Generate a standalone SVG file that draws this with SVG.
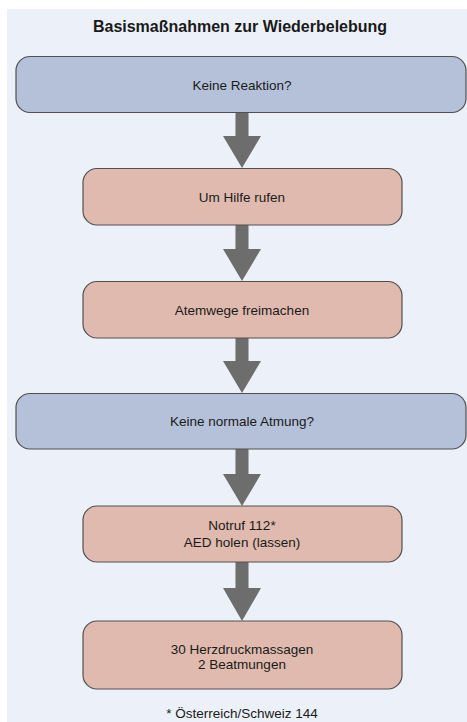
<svg xmlns="http://www.w3.org/2000/svg" width="467" height="722" viewBox="0 0 467 722">
<style>
.bg{fill:#ECF1F9}
.q{fill:#B5C1D9;stroke:#505050;stroke-width:1.2}
.a{fill:#E0BAAE;stroke:#505050;stroke-width:1.2}
.t{font-family:"Liberation Sans",Arial,sans-serif;font-size:13.5px;fill:#1a1a1a;text-anchor:middle}
.title{font-family:"Liberation Sans",Arial,sans-serif;font-size:16px;font-weight:bold;fill:#1a1a1a;text-anchor:middle}
.arr{fill:#6D6D6D}
</style>
<rect class="bg" x="7" y="9" width="460" height="713"/>
<text class="title" x="240" y="32">Basismaßnahmen zur Wiederbelebung</text>
<g id="connectors">
<path class="arr" d="M235.5 112.5H248.5V136H261L242 168L223 136H235.5Z"/>
<path class="arr" d="M235.5 225H248.5V249H261L242 281L223 249H235.5Z"/>
<path class="arr" d="M235.5 338H248.5V361H261L242 393L223 361H235.5Z"/>
<path class="arr" d="M235.5 449H248.5V474H261L242 506L223 474H235.5Z"/>
<path class="arr" d="M235.5 562H248.5V588H261L242 621L223 588H235.5Z"/>
</g>
<g id="n1"><rect class="q" x="16" y="56.5" width="450" height="56" rx="14"/><text class="t" x="242" y="90">Keine Reaktion?</text></g>
<g id="n2"><rect class="a" x="83" y="168.5" width="319" height="56.5" rx="14"/><text class="t" x="242" y="201.5">Um Hilfe rufen</text></g>
<g id="n3"><rect class="a" x="83" y="281.5" width="319" height="56.5" rx="14"/><text class="t" x="242" y="314.5">Atemwege freimachen</text></g>
<g id="n4"><rect class="q" x="16" y="393.5" width="450" height="55.5" rx="14"/><text class="t" x="242" y="426">Keine normale Atmung?</text></g>
<g id="n5"><rect class="a" x="83" y="506" width="319" height="56" rx="14"/><text class="t" x="242" y="530">Notruf 112*</text><text class="t" x="242" y="547">AED holen (lassen)</text></g>
<g id="n6"><rect class="a" x="83" y="621" width="319" height="68" rx="14"/><text class="t" x="242" y="653.5">30 Herzdruckmassagen</text><text class="t" x="242" y="668.5">2 Beatmungen</text></g>
<text class="t" x="242" y="718">* Österreich/Schweiz 144</text>
</svg>
